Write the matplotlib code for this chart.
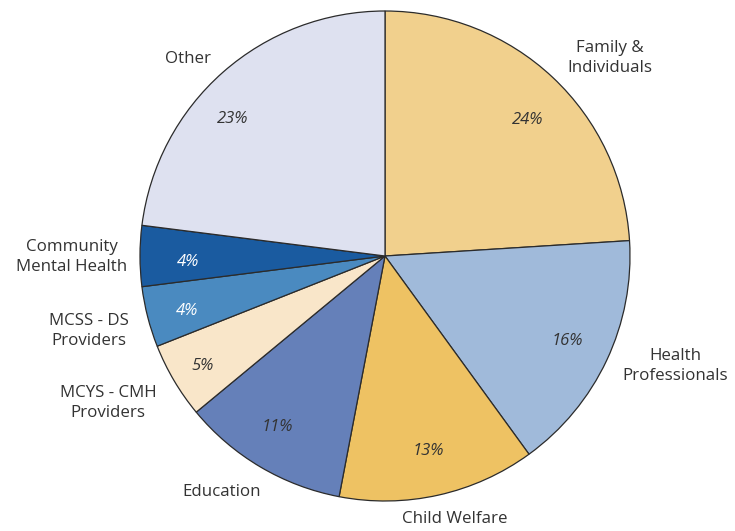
import matplotlib
matplotlib.use("Agg")
import matplotlib.pyplot as plt

# Data
categories = ["Family &\nIndividuals", "Health\nProfessionals", "Child Welfare",
              "Education", "MCYS - CMH\nProviders", "MCSS - DS\nProviders",
              "Community\nMental Health", "Other"]
shares = [24, 16, 13, 11, 5, 4, 4, 23]
colors = ["#F1D08D", "#A0BADA", "#EEC263", "#6580B9",
          "#F9E6C9", "#4A8AC0", "#1A5BA0", "#DEE1F0"]
pct_colors = ["#333333", "#333333", "#333333", "#333333",
              "#333333", "white", "white", "#333333"]

# text positions in pixel coords (x from left, y from top)
label_pos = [(610, 58), (675, 366), (455, 519), (222, 492),
             (108, 403), (89, 331), (72, 257), (188, 59)]
pct_pos = [(528, 120), (567, 341), (428, 451), (277, 427),
           (203, 366), (187, 311), (188, 262), (233, 119)]

W, H = 735, 531
cx, cy, R = 385, 256, 245

plt.rcParams["font.family"] = ["Open Sans", "DejaVu Sans"]

fig = plt.figure(figsize=(W / 100, H / 100), dpi=100)
ax = fig.add_axes([0, 0, 1, 1])

wedges, texts = ax.pie(
    shares, colors=colors, startangle=90, counterclock=False,
    radius=R, center=(cx, H - cy),
    wedgeprops=dict(edgecolor="#2b2b2b", linewidth=0.9),
    frame=True,
)

for v, c, (x, y) in zip(shares, pct_colors, pct_pos):
    ax.text(x, H - y, f"{v}%", ha="center", va="center", fontsize=12,
            style="italic", color=c)

for lab, (x, y) in zip(categories, label_pos):
    ax.text(x, H - y, lab, ha="center", va="center", fontsize=12.2,
            color="#333333", linespacing=1.3)

ax.set_xlim(0, W)
ax.set_ylim(0, H)
ax.set_aspect("equal")
ax.axis("off")

fig.savefig("out.png", dpi=100)
